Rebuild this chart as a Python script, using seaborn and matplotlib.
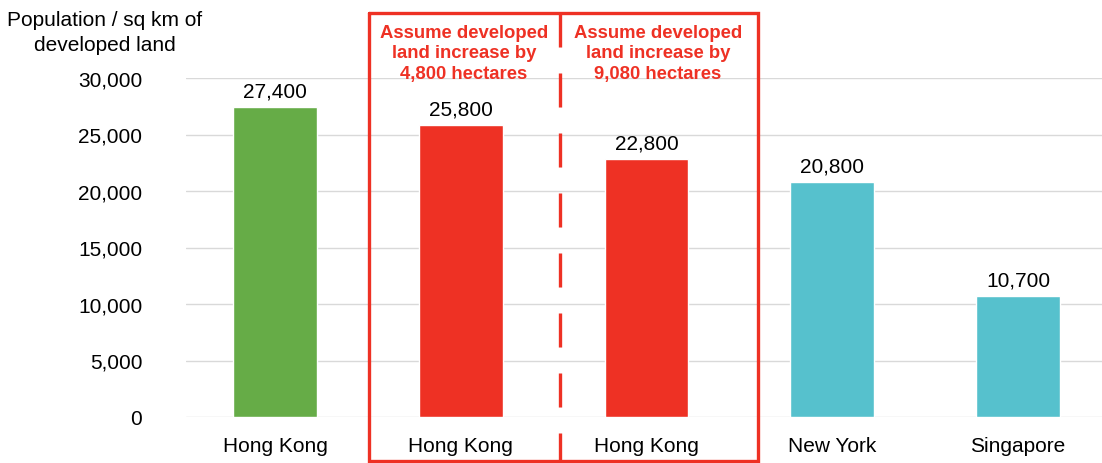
import matplotlib
matplotlib.use("Agg")
import matplotlib.pyplot as plt
import seaborn as sns
import pandas as pd
from matplotlib.lines import Line2D

categories = ["Hong Kong", "Hong Kong ", "Hong Kong  ", "New York", "Singapore"]
tick_labels = ["Hong Kong", "Hong Kong", "Hong Kong", "New York", "Singapore"]
values = [27400, 25800, 22800, 20800, 10700]
value_labels = ["27,400", "25,800", "22,800", "20,800", "10,700"]
colors = ["#66AC47", "#EE3124", "#EE3124", "#56C1CD", "#56C1CD"]
yticks = [0, 5000, 10000, 15000, 20000, 25000, 30000]
ytick_labels = ["0", "5,000", "10,000", "15,000", "20,000", "25,000", "30,000"]
box_notes = ["Assume developed\nland increase by\n4,800 hectares",
             "Assume developed\nland increase by\n9,080 hectares"]

sns.set_theme(style="white")
plt.rcParams['font.family'] = ['Liberation Sans', 'DejaVu Sans']
plt.rcParams['text.color'] = 'black'

W, H = 1102, 464
fig = plt.figure(figsize=(W/100, H/100), dpi=100)
ax = fig.add_axes([186/W, 1 - 418/H, (1102-186)/W, (418-79)/H])

df = pd.DataFrame({"cat": categories, "val": values})
sns.barplot(data=df, x="cat", y="val", hue="cat", palette=colors, legend=False,
            width=0.45, ax=ax, saturation=1)

ax.set_ylim(0, 30000)
ax.set_xlim(-0.479, 4.452)
ax.set_yticks(yticks)
ax.set_yticklabels(ytick_labels, fontsize=15)
ax.set_xticks(range(len(categories)))
ax.set_xticklabels(tick_labels, fontsize=15)
ax.tick_params(axis='y', length=0, pad=31.5, colors="black")
ax.tick_params(axis='x', length=0, pad=14, colors="black")
ax.set_xlabel("")
ax.set_ylabel("")
for s in ax.spines.values():
    s.set_visible(False)
ax.yaxis.grid(True, color="#D9D9D9", linewidth=1)
ax.set_axisbelow(True)

for i, (v, lab) in enumerate(zip(values, value_labels)):
    ax.annotate(lab, (i, v), xytext=(0, 5), textcoords="offset points",
                ha="center", va="bottom", fontsize=15, color="black")

fig.text(105/W, 1 - 33/H, "Population / sq km of\ndeveloped land", ha="center",
         va="center", fontsize=15, linespacing=1.38, color="black")

# red box
red = "#EE3124"
def fx(x): return x / W
def fy(y): return 1 - y / H
lw = 2.4
fig.add_artist(Line2D([fx(369), fx(758), fx(758), fx(369), fx(369)],
                      [fy(14), fy(14), fy(462), fy(462), fy(14)],
                      color=red, linewidth=lw, solid_joinstyle="miter"))
fig.add_artist(Line2D([fx(560), fx(560)], [fy(14), fy(462)], color=red,
                      linewidth=lw, dash_capstyle="butt",
                      linestyle=(0, (24.5/lw, 18.7/lw))))

fig.text(fx(464), fy(54), box_notes[0], ha="center", va="center", fontsize=13.3,
         fontweight="bold", color=red, linespacing=1.3)
fig.text(fx(658), fy(54), box_notes[1], ha="center", va="center", fontsize=13.3,
         fontweight="bold", color=red, linespacing=1.3)

fig.savefig("out.png", dpi=100)
